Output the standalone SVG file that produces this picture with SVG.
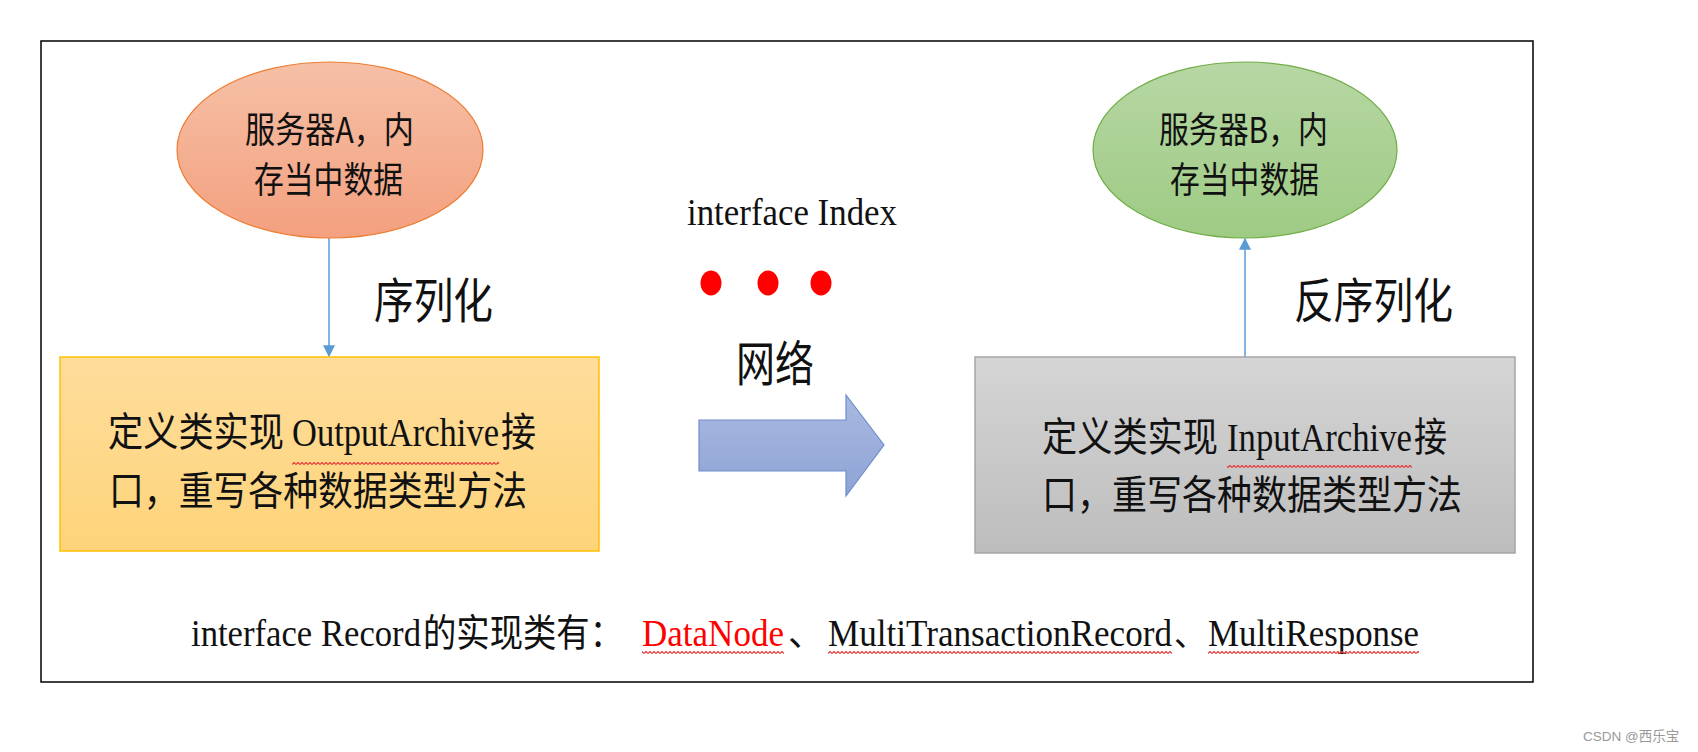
<svg xmlns="http://www.w3.org/2000/svg" width="1698" height="752" viewBox="0 0 1698 752">
<style>
.cjk{font-family:"Noto Sans CJK SC","Noto Sans",sans-serif;fill:#111}
.ser{font-family:"Liberation Serif","Noto Sans CJK SC",serif;fill:#111}
.conn{stroke:#5b9bd5;stroke-width:1.5;fill:none}
</style>
<defs>
<linearGradient id="gA" x1="0" y1="0" x2="0" y2="1"><stop offset="0" stop-color="#f6c0a6"/><stop offset="1" stop-color="#f3a07f"/></linearGradient>
<linearGradient id="gB" x1="0" y1="0" x2="0" y2="1"><stop offset="0" stop-color="#b7d7a4"/><stop offset="1" stop-color="#9ecb84"/></linearGradient>
<linearGradient id="gY" x1="0" y1="0" x2="0" y2="1"><stop offset="0" stop-color="#fedd9c"/><stop offset="1" stop-color="#fed47a"/></linearGradient>
<linearGradient id="gG" x1="0" y1="0" x2="0" y2="1"><stop offset="0" stop-color="#d5d5d5"/><stop offset="1" stop-color="#bdbdbd"/></linearGradient>
<linearGradient id="gArr" x1="0" y1="0" x2="0" y2="1"><stop offset="0" stop-color="#a9b9e0"/><stop offset="1" stop-color="#8ea3d6"/></linearGradient>
<marker id="ah" markerWidth="12" markerHeight="14" refX="9" refY="5" orient="auto" markerUnits="userSpaceOnUse" viewBox="0 0 10 10">
<path d="M0,0 L10,5 L0,10 Z" fill="#5b9bd5"/>
</marker>
<pattern id="squig" patternUnits="userSpaceOnUse" width="4" height="3">
<path d="M0,2.6 L2,0.4 L4,2.6" stroke="#e43c3c" stroke-width="1.2" fill="none"/>
</pattern>
</defs>
<rect width="1698" height="752" fill="#fff"/>
<rect x="41" y="41" width="1492" height="641" fill="none" stroke="#000" stroke-width="1.5"/>

<g id="connectors">
<line class="conn" x1="329" y1="238" x2="329" y2="356" marker-end="url(#ah)"/>
<line class="conn" x1="1245" y1="357" x2="1245" y2="239" marker-end="url(#ah)"/>
<path id="netArrow" d="M699,420 L846,420 L846,395 L884,445 L846,496 L846,471 L699,471 Z" fill="url(#gArr)" stroke="#6f8dcc" stroke-width="1.2"/>
</g>

<g id="serverA">
<ellipse cx="330" cy="150" rx="153" ry="88" fill="url(#gA)" stroke="#ed7d31" stroke-width="1.2"/>
<text class="cjk" x="245" y="143" font-size="36" textLength="169" lengthAdjust="spacingAndGlyphs">服务器A，内</text>
<text class="cjk" x="254" y="193" font-size="36" textLength="149" lengthAdjust="spacingAndGlyphs">存当中数据</text>
</g>

<g id="serverB">
<ellipse cx="1245" cy="150" rx="152" ry="88" fill="url(#gB)" stroke="#70ad47" stroke-width="1.2"/>
<text class="cjk" x="1159" y="143" font-size="36" textLength="169" lengthAdjust="spacingAndGlyphs">服务器B，内</text>
<text class="cjk" x="1170" y="193" font-size="36" textLength="149" lengthAdjust="spacingAndGlyphs">存当中数据</text>
</g>

<g id="label-serialize">
<text class="cjk" x="374" y="318" font-size="48" textLength="119" lengthAdjust="spacingAndGlyphs">序列化</text>
</g>
<g id="label-deserialize">
<text class="cjk" x="1294" y="318" font-size="48" textLength="159" lengthAdjust="spacingAndGlyphs">反序列化</text>
</g>

<g id="network">
<text class="ser" x="687" y="225" font-size="38" textLength="210" lengthAdjust="spacingAndGlyphs">interface Index</text>
<ellipse cx="711" cy="283" rx="10.5" ry="12.5" fill="#ff0000"/>
<ellipse cx="768" cy="283" rx="10.5" ry="12.5" fill="#ff0000"/>
<ellipse cx="821" cy="283" rx="10.5" ry="12.5" fill="#ff0000"/>
<text class="cjk" x="736" y="381" font-size="48" textLength="78" lengthAdjust="spacingAndGlyphs">网络</text>
</g>

<g id="boxA">
<rect x="60" y="357" width="539" height="194" fill="url(#gY)" stroke="#ffc000" stroke-width="1.5"/>
<text class="cjk" y="446" font-size="40"><tspan x="108" textLength="176" lengthAdjust="spacingAndGlyphs">定义类实现</tspan><tspan class="ser" x="292" textLength="207" lengthAdjust="spacingAndGlyphs">OutputArchive</tspan><tspan x="501" textLength="35" lengthAdjust="spacingAndGlyphs">接</tspan></text>
<rect x="292" y="462" width="207" height="3" fill="url(#squig)"/>
<text class="cjk" x="109" y="505" font-size="40" textLength="418" lengthAdjust="spacingAndGlyphs">口，重写各种数据类型方法</text>
</g>

<g id="boxB">
<rect x="975" y="357" width="540" height="196" fill="url(#gG)" stroke="#a5a5a5" stroke-width="1.5"/>
<text class="cjk" y="451" font-size="40"><tspan x="1042" textLength="176" lengthAdjust="spacingAndGlyphs">定义类实现</tspan><tspan class="ser" x="1227" textLength="185" lengthAdjust="spacingAndGlyphs">InputArchive</tspan><tspan x="1414" textLength="33" lengthAdjust="spacingAndGlyphs">接</tspan></text>
<rect x="1227" y="465" width="185" height="3" fill="url(#squig)"/>
<text class="cjk" x="1042" y="509" font-size="40" textLength="420" lengthAdjust="spacingAndGlyphs">口，重写各种数据类型方法</text>
</g>

<g id="record-note">
<text class="cjk" y="646" font-size="38"><tspan class="ser" x="191" textLength="230" lengthAdjust="spacingAndGlyphs">interface Record</tspan><tspan x="423" textLength="200" lengthAdjust="spacingAndGlyphs">的实现类有：</tspan><tspan class="ser" x="642" textLength="142" lengthAdjust="spacingAndGlyphs" style="fill:#ff0000">DataNode</tspan><tspan x="788" font-size="36">、</tspan><tspan class="ser" x="828" textLength="344" lengthAdjust="spacingAndGlyphs">MultiTransactionRecord</tspan><tspan x="1174" font-size="32">、</tspan><tspan class="ser" x="1208" textLength="211" lengthAdjust="spacingAndGlyphs">MultiResponse</tspan></text>
<rect x="642" y="651" width="142" height="3" fill="url(#squig)"/>
<rect x="828" y="651" width="344" height="3" fill="url(#squig)"/>
<rect x="1208" y="651" width="211" height="3" fill="url(#squig)"/>
</g>

<text x="1583" y="741" font-family="Liberation Sans, Noto Sans CJK SC, sans-serif" font-size="13.5" fill="#999">CSDN @西乐宝</text>
</svg>
